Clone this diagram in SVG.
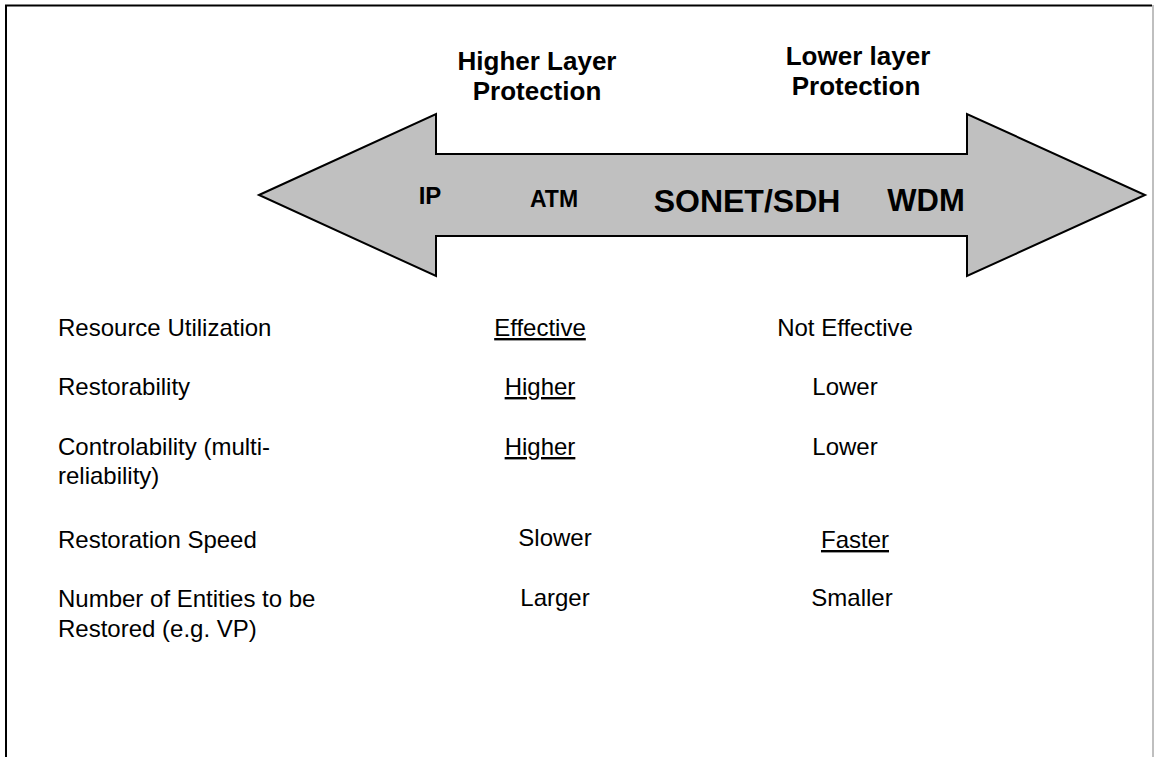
<svg xmlns="http://www.w3.org/2000/svg" width="1156" height="757" viewBox="0 0 1156 757">
<style>
text{font-family:"Liberation Sans",Arial,sans-serif;fill:#000}
.h{font-weight:bold;font-size:26px;text-anchor:middle}
.b{font-weight:bold;text-anchor:middle}
.r{font-size:24px}
.c{font-size:24px;text-anchor:middle}
.u{text-decoration:underline}
</style>
<rect width="1156" height="757" fill="#fff"/>
<g id="frame">
<path d="M6,757 V5.5 H1152" fill="none" stroke="#000" stroke-width="2"/>
<path d="M1153,5 V757" fill="none" stroke="#aaa" stroke-width="1.5"/>
</g>
<g id="arrow">
<polygon points="259,195 436,114 436,154 967,154 967,114 1145,195 967,276 967,236 436,236 436,276" fill="#c0c0c0" stroke="#000" stroke-width="2" stroke-linejoin="miter"/>
<text class="b" x="430" y="204" font-size="24">IP</text>
<text class="b" x="554" y="207" font-size="23">ATM</text>
<text class="b" x="747" y="212" font-size="32">SONET/SDH</text>
<text class="b" x="926" y="211" font-size="31">WDM</text>
</g>
<g id="higher">
<text class="h" x="537" y="70">Higher Layer</text>
<text class="h" x="537" y="100">Protection</text>
</g>
<g id="lower">
<text class="h" x="858" y="65">Lower layer</text>
<text class="h" x="856" y="95">Protection</text>
</g>
<g id="labels">
<text class="r" x="58" y="336">Resource Utilization</text>
<text class="r" x="58" y="395">Restorability</text>
<text class="r" x="58" y="455">Controlability (multi-</text>
<text class="r" x="58" y="484">reliability)</text>
<text class="r" x="58" y="548">Restoration Speed</text>
<text class="r" x="58" y="607">Number of Entities to be</text>
<text class="r" x="58" y="637">Restored (e.g. VP)</text>
</g>
<g id="higher-values">
<text class="c u" x="540" y="336">Effective</text>
<text class="c u" x="540" y="395">Higher</text>
<text class="c u" x="540" y="455">Higher</text>
<text class="c" x="555" y="546">Slower</text>
<text class="c" x="555" y="606">Larger</text>
</g>
<g id="lower-values">
<text class="c" x="845" y="336">Not Effective</text>
<text class="c" x="845" y="395">Lower</text>
<text class="c" x="845" y="455">Lower</text>
<text class="c u" x="855" y="548">Faster</text>
<text class="c" x="852" y="606">Smaller</text>
</g>
</svg>
